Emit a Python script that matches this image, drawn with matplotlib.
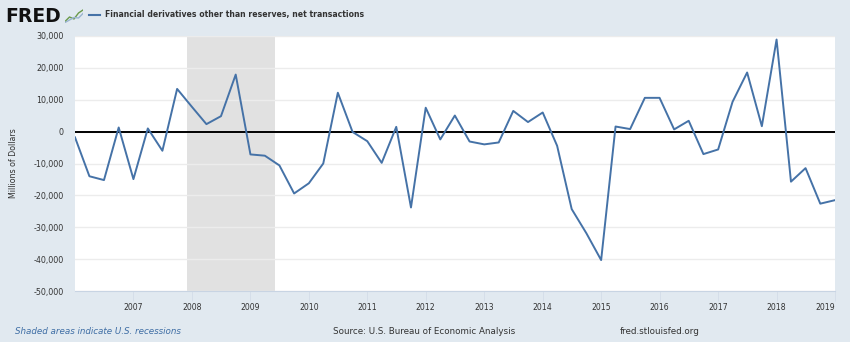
#!/usr/bin/env python3
# -*- coding: utf-8 -*-
"""FRED: Financial derivatives other than reserves, net transactions (quarterly)."""
import numpy as np
import pandas as pd
import matplotlib
matplotlib.use("Agg")
import matplotlib.pyplot as plt

# --- data (millions of dollars) ---
quarters = pd.period_range("2006Q1", "2019Q1", freq="Q")
values = [
    -1800, -14000, -15200, 1300,          # 2006
    -14900, 1000, -6000, 13400,           # 2007
    7800, 2350, 4850, 17900,              # 2008
    -7150, -7550, -10600, -19400,         # 2009
    -16200, -10000, 12200, -100,          # 2010
    -3000, -9800, 1500, -23800,           # 2011
    7500, -2450, 5050, -3100,             # 2012
    -4000, -3400, 6500, 3000,             # 2013
    6000, -4450, -24300, -31900,          # 2014
    -40300, 1600, 800, 10600,             # 2015
    10600, 700, 3400, -7050,              # 2016
    -5600, 9350, 18550, 1700,             # 2017
    28900, -15700, -11450, -22600,        # 2018
    -21500,                               # 2019
]
recessions = [("2007-12-01", "2009-06-01")]
y_ticks = [30000, 20000, 10000, 0, -10000, -20000, -30000, -40000, -50000]
x_years = list(range(2007, 2020))

BG = "#e1e9f0"
LINE = "#4572a7"
TXT = "#333333"

dates = quarters.to_timestamp()

fig = plt.figure(figsize=(8.5, 3.42), dpi=100, facecolor=BG)
ax = fig.add_axes([75 / 850, 1 - 291 / 342, 760 / 850, 255 / 342])
ax.set_facecolor("white")

for start, end in recessions:
    ax.axvspan(pd.Timestamp(start), pd.Timestamp(end), color="#e1e1e1", lw=0, zorder=0)

ax.plot(dates, values, color=LINE, lw=1.4, zorder=3)
ax.axhline(0, color="black", lw=1.4, zorder=2)

ax.set_xlim(pd.Timestamp("2006-01-01"), pd.Timestamp("2019-01-01"))
ax.set_ylim(-50000, 30000)
ax.set_yticks(y_ticks)
ax.set_yticklabels([f"{v:,}" for v in y_ticks])
ax.set_xticks([pd.Timestamp(f"{y}-01-01") for y in x_years])
ax.set_xticklabels([str(y) for y in x_years])
ax.get_xticklabels()[-1].set_horizontalalignment("right")
ax.grid(axis="y", color="#ececec", lw=1.0, zorder=1)

for s in ["top", "right", "left"]:
    ax.spines[s].set_visible(False)
ax.spines["bottom"].set_color("#c8d4e3")
ax.tick_params(axis="y", length=0, labelsize=5.7, colors=TXT, pad=8)
ax.tick_params(axis="x", length=7, width=0.6, color="#d3dce8", labelsize=5.6,
               colors=TXT, pad=1.5)
ax.set_ylabel("Millions of Dollars", fontsize=5.7, color=TXT, labelpad=11)

# header
fig.text(5 / 850, 1 - 16 / 342, "FRED", fontsize=13.5, fontweight="heavy",
         color="#111111", va="center", ha="left")
icon = fig.add_axes([65 / 850, 1 - 23 / 342, 18 / 850, 15 / 342])
icon.set_facecolor("#dfe8df")
icon.plot([0, 1, 2, 3, 4], [0.3, 1.2, 0.8, 2.0, 2.6], color="#6a9a4a", lw=1)
icon.plot([0, 1, 2, 3, 4], [0.1, 0.6, 1.1, 1.0, 1.9], color="#9ab4d0", lw=1)
icon.set_xlim(0, 4)
icon.set_ylim(0, 3)
icon.axis("off")
fig.lines.append(plt.Line2D([89 / 850, 100 / 850], [1 - 15 / 342, 1 - 15 / 342],
                            transform=fig.transFigure, color=LINE, lw=1.5))
fig.text(105 / 850, 1 - 15 / 342,
         "Financial derivatives other than reserves, net transactions",
         fontsize=5.6, fontweight="bold", color=TXT, va="center", ha="left")

# footer
fig.text(15 / 850, 1 - 332 / 342, "Shaded areas indicate U.S. recessions",
         fontsize=6.3, style="italic", color="#3f6ea5", va="center", ha="left")
fig.text(333 / 850, 1 - 332 / 342, "Source: U.S. Bureau of Economic Analysis",
         fontsize=6.3, color=TXT, va="center", ha="left")
fig.text(620 / 850, 1 - 332 / 342, "fred.stlouisfed.org",
         fontsize=6.3, color=TXT, va="center", ha="left")

fig.savefig("out.png", dpi=100, facecolor=BG)
